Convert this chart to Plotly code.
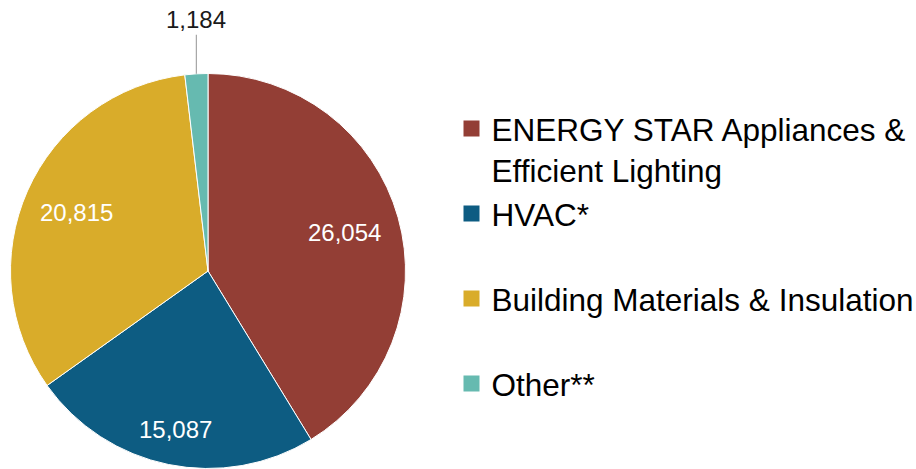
import math
import plotly.graph_objects as go

# ---- data ----
categories = ["ENERGY STAR Appliances &<br>Efficient Lighting", "HVAC*",
              "Building Materials & Insulation", "Other**"]
values = [26054, 15087, 20815, 1184]
colors = ["#933E35", "#0D5C82", "#D9AC2A", "#66BAB0"]

# ---- style / layout settings ----
W, H = 916, 469
pie_left, pie_right, pie_top, pie_bottom = 10.5, 405.5, 73.5, 468.5
dom_x = [pie_left / W, pie_right / W]
dom_y = [(H - pie_bottom) / H, (H - pie_top) / H]
label_radius = [0.72, 0.82, 0.73]      # radial position of inside labels (fraction of R)
FONT = "Arial, Liberation Sans, sans-serif"

fig = go.Figure()
fig.add_trace(go.Pie(
    labels=categories,
    values=values,
    sort=False,
    direction="clockwise",
    rotation=0,
    marker=dict(colors=colors, line=dict(color="white", width=1)),
    textinfo="none",
    domain=dict(x=dom_x, y=dom_y),
    showlegend=False,
    hoverinfo="label+value",
))

# pie geometry in pixels, used to place the value labels along slice bisectors
total = sum(values)
cx, cy = (pie_left + pie_right) / 2, (pie_top + pie_bottom) / 2
R = (pie_right - pie_left) / 2
cum = 0
mids = []
for v in values:
    mids.append(2 * math.pi * (cum + v / 2) / total)
    cum += v

for i, frac in enumerate(label_radius):
    th = mids[i]
    px = cx + frac * R * math.sin(th)
    py = cy - frac * R * math.cos(th)
    fig.add_annotation(
        x=px / W, y=1 - py / H, xref="paper", yref="paper",
        xanchor="center", yanchor="middle",
        text=f"{values[i]:,}", showarrow=False,
        font=dict(family=FONT, size=24, color="white"),
    )

# outside label for the small "Other" slice with a leader line
th = mids[-1]
edge_x = cx + R * math.sin(th)
edge_y = cy - R * math.cos(th)
fig.add_annotation(
    x=edge_x / W, y=1 - edge_y / H, xref="paper", yref="paper",
    text=f"{values[-1]:,}", showarrow=True, arrowhead=0, arrowwidth=1.2,
    arrowcolor="#A6A6A6", ax=0, ay=-54, standoff=0,
    font=dict(family=FONT, size=24, color="#1A1A1A"),
)

# legend entries, one legend per item so rows keep the original spacing
legend_rows_px = [128.5, 213.5, 298.5, 383.5]
legend_names = ["legend", "legend2", "legend3", "legend4"]
for name, col, lg in zip(categories, colors, legend_names):
    fig.add_trace(go.Scatter(
        x=[None], y=[None], mode="markers", name=name,
        marker=dict(symbol="square", size=17, color=col),
        legend=lg, showlegend=True, hoverinfo="skip",
    ))

layout_legends = {}
for lg, ypx in zip(legend_names, legend_rows_px):
    layout_legends[lg] = dict(
        x=451.5 / W, xanchor="left",
        y=1 - (ypx - 27) / H, yanchor="top",
        font=dict(family=FONT, size=31.5, color="#000000"),
        bgcolor="rgba(0,0,0,0)", borderwidth=0, valign="top",
        itemclick=False, itemdoubleclick=False,
    )

fig.update_layout(
    width=W, height=H,
    margin=dict(l=0, r=0, t=0, b=0, autoexpand=False),
    paper_bgcolor="white", plot_bgcolor="white",
    xaxis=dict(visible=False), yaxis=dict(visible=False),
    **layout_legends,
)

fig.write_html(
    "out.html",
    config={"displayModeBar": False},
    post_script="document.body.style.margin='0';document.body.style.overflow='hidden';",
)
